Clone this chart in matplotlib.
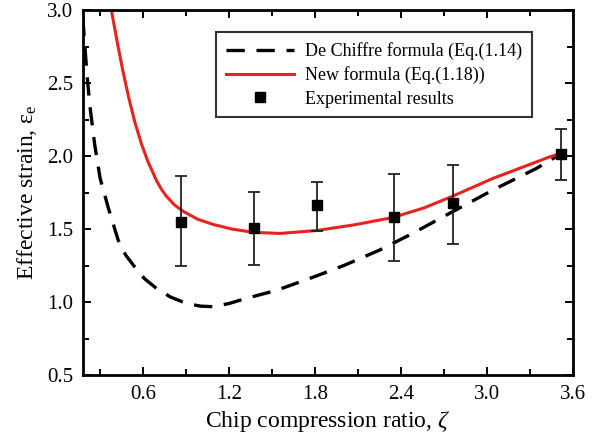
import matplotlib.pyplot as plt
from matplotlib.ticker import MultipleLocator

# experimental points
exp_x = [0.868, 1.372, 1.814, 2.352, 2.759, 3.513]
exp_y = [1.55, 1.505, 1.664, 1.584, 1.676, 2.014]
err_low = [0.30, 0.25, 0.18, 0.30, 0.28, 0.18]
err_high = [0.315, 0.25, 0.16, 0.29, 0.26, 0.17]

# De Chiffre formula
dc_x = [0.18, 0.186, 0.207, 0.228, 0.263, 0.30, 0.356, 0.426, 0.48, 0.542, 0.61,
        0.693, 0.79, 0.903, 1.0, 1.088, 1.2, 1.32, 1.53, 1.786, 2.0, 2.25, 2.48,
        2.693, 3.04, 3.345, 3.513]
dc_y = [2.95, 2.86, 2.58, 2.35, 2.075, 1.85, 1.65, 1.425, 1.32, 1.24, 1.16,
        1.094, 1.035, 0.99, 0.972, 0.968, 0.99, 1.025, 1.08, 1.17, 1.25, 1.356,
        1.47, 1.584, 1.767, 1.916, 2.014]

# new formula
nf_x = [0.379, 0.42, 0.46, 0.50, 0.542, 0.59, 0.635, 0.695, 0.73, 0.763, 0.82,
        0.879, 0.98, 1.088, 1.22, 1.368, 1.554, 1.81, 2.08, 2.345, 2.56, 2.759,
        3.04, 3.25, 3.438, 3.513]
nf_y = [3.0, 2.78, 2.58, 2.40, 2.235, 2.08, 1.96, 1.83, 1.77, 1.725, 1.665,
        1.622, 1.568, 1.532, 1.50, 1.478, 1.47, 1.49, 1.53, 1.58, 1.645, 1.725,
        1.847, 1.925, 1.995, 2.018]

plt.rcParams['font.family'] = ['Liberation Serif', 'DejaVu Serif']
plt.rcParams['mathtext.fontset'] = 'custom'
plt.rcParams['mathtext.rm'] = 'Liberation Serif'
plt.rcParams['mathtext.it'] = 'Liberation Serif:italic'

fig = plt.figure(figsize=(5.92, 4.43), dpi=100)
ax = fig.add_axes([0.140, 0.1535, 0.828, 0.8235])

ax.plot(dc_x, dc_y, color='black', lw=2.4, ls=(0, (5.5, 3.5)),
        label='De Chiffre formula (Eq.(1.14)')
ax.plot(nf_x, nf_y, color='#e8221c', lw=2.2, label='New formula (Eq.(1.18))')
ax.errorbar(exp_x, exp_y, yerr=[err_low, err_high], fmt='none',
            ecolor='#222222', elinewidth=1.3, capsize=4.5, capthick=1.3)
ax.plot(exp_x, exp_y, 's', color='black', ms=7, ls='none',
        label='Experimental results')

ax.set_xlim(0.18, 3.6)
ax.set_ylim(0.5, 3.0)
ax.xaxis.set_major_locator(MultipleLocator(0.6))
ax.xaxis.set_minor_locator(MultipleLocator(0.3))
ax.yaxis.set_major_locator(MultipleLocator(0.5))
ax.yaxis.set_minor_locator(MultipleLocator(0.25))
ax.set_xticks([0.6, 1.2, 1.8, 2.4, 3.0, 3.6])
ax.set_xticklabels(['0.6', '1.2', '1.8', '2.4', '3.0', '3.6'])

ax.tick_params(which='both', direction='in', top=True, right=True,
               width=1.4, labelsize=15, pad=7)
ax.tick_params(which='major', length=6)
ax.tick_params(which='minor', length=4)
for s in ax.spines.values():
    s.set_linewidth(2)

ax.set_xlabel('Chip compression ratio, $\\zeta$', fontsize=17, labelpad=4)
ax.set_ylabel('Effective strain, $\\mathrm{\u03b5}_{\\mathrm{e}}$', fontsize=17, labelpad=6)

leg = ax.legend(loc='upper right', bbox_to_anchor=(0.917, 0.94), fontsize=13,
                frameon=True, fancybox=False, edgecolor='black',
                handlelength=3.8, borderpad=0.55, labelspacing=0.35,
                handletextpad=0.6, borderaxespad=0)
leg.get_frame().set_linewidth(1.5)

plt.savefig('out.png', dpi=100)
